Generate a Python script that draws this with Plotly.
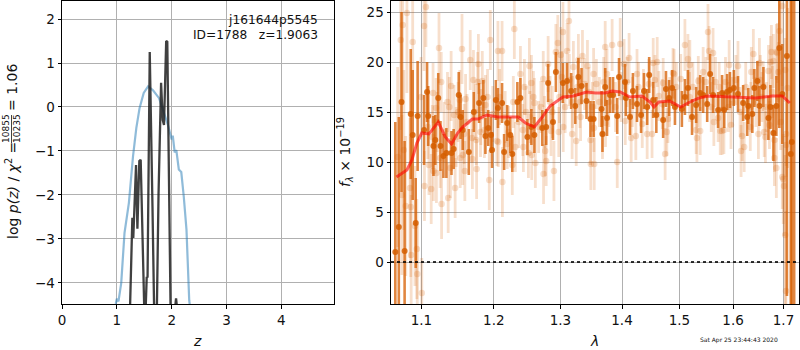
import math
import plotly.graph_objects as go

# ---- left panel data ----
pz_z = [0.98, 1.0, 1.03, 1.08, 1.14, 1.22, 1.295, 1.355, 1.415, 1.49, 1.57, 1.66, 1.77, 1.84, 1.93, 2.0, 2.02, 2.055, 2.085, 2.13, 2.175, 2.22, 2.27, 2.32, 2.34]
pz_log = [-4.48, -4.36, -4.42, -4.0, -2.86, -2.18, -1.12, -0.48, -0.02, 0.32, 0.47, 0.38, 0.2, -0.06, -0.4, -0.74, -0.65, -1.03, -0.98, -1.42, -1.48, -2.03, -2.79, -4.4, -4.6]
chi_z = [1.24, 1.253, 1.283, 1.30, 1.35, 1.375, 1.41, 1.435, 1.485, 1.50, 1.525, 1.545, 1.56, 1.60, 1.65, 1.68, 1.73, 1.76, 1.807, 1.837, 1.86, 1.90, 1.92, 1.97, 1.98, 2.06, 2.08, 2.1]
chi_log = [-4.6, -3.86, -2.52, -2.98, -1.32, -2.77, -1.23, -1.2, -4.23, -4.6, -4.6, -3.86, -3.88, 1.25, -2.27, -4.6, -4.6, -2.0, 0.55, -0.3, -0.41, 1.5, 1.48, -4.39, -4.6, -4.6, -4.35, -4.6]

# ---- right panel data ----
dark_wave = [1.066, 1.0705, 1.074, 1.078, 1.086, 1.0885, 1.0925, 1.095, 1.1035, 1.1075,
             1.109, 1.116, 1.1185, 1.1225, 1.1255, 1.1295, 1.1335, 1.1405, 1.1435, 1.1505,
             1.153, 1.156, 1.1645, 1.1715, 1.179, 1.185, 1.188, 1.192, 1.196, 1.1975,
             1.203, 1.206, 1.212, 1.215, 1.2195, 1.224, 1.227, 1.2345, 1.239, 1.2495,
             1.2555, 1.26, 1.272, 1.278, 1.281, 1.2885, 1.293, 1.304, 1.3105, 1.317,
             1.3235, 1.3285, 1.3335, 1.3415, 1.348, 1.353, 1.366, 1.3675, 1.372, 1.375,
             1.38, 1.385, 1.392, 1.395, 1.405, 1.4065, 1.4135, 1.4185, 1.4255, 1.4325,
             1.4375, 1.443, 1.4465, 1.4535, 1.459, 1.471, 1.476, 1.4815, 1.487, 1.492,
             1.5045, 1.51, 1.5155, 1.523, 1.5305, 1.538, 1.5435, 1.551, 1.5565, 1.562,
             1.5715, 1.579, 1.583, 1.5885, 1.594, 1.6015, 1.6095, 1.6195, 1.6275, 1.6295,
             1.6375, 1.6415, 1.6475, 1.6515, 1.6595, 1.6695, 1.6735, 1.6795, 1.6855, 1.6915,
             1.6975, 1.707, 1.715, 1.717, 1.722]
dark_flux = [1.0, 3.5, 16.0, 1.1, 14.8, 12.7, 3.9, 14.6, 13.2, 17.0,
             14.6, 11.6, 12.2, 16.4, 11.6, 10.6, 10.9, 10.9, 11.3, 16.7,
             14.5, 13.2, 11.0, 15.0, 15.9, 16.4, 12.6, 13.4, 12.7, 11.2,
             16.2, 15.4, 15.9, 11.0, 13.9, 12.7, 10.8, 16.0, 16.4, 12.5,
             13.5, 12.7, 13.4, 13.5, 17.9, 14.0, 19.0, 17.9, 18.1, 17.1,
             15.6, 18.5, 17.6, 16.1, 14.3, 14.3, 15.3, 12.8, 17.5, 14.4,
             16.7, 16.7, 14.6, 18.5, 18.0, 16.4, 14.5, 17.1, 15.8, 14.7,
             17.1, 15.5, 18.7, 16.2, 14.7, 14.2, 17.3, 16.4, 17.4, 15.5,
             15.3, 16.5, 17.4, 14.5, 15.7, 16.9, 16.7, 15.8, 18.8, 16.7,
             15.2, 16.9, 15.2, 17.0, 17.2, 17.4, 16.8, 15.9, 14.5, 15.6,
             14.8, 17.4, 18.1, 15.6, 17.5, 14.4, 15.5, 12.9, 15.6, 21.4,
             16.8, 20.6, 10.8, 12.0, 30.0]
dark_err = [13, 11, 9, 11, 6.5, 6.5, 4.5, 5.5, 3.5, 3,
            3, 3, 2.5, 2.5, 2.5, 2.2, 2.5, 2.2, 2, 2.3,
            2.2, 2, 2.3, 2, 2, 1.8, 1.8, 1.8, 1.8, 1.8,
            2, 2, 2, 1.8, 1.8, 1.8, 1.8, 2, 2, 1.8,
            1.8, 1.8, 1.8, 1.8, 1.9, 1.8, 2, 2, 1.8, 1.8,
            1.8, 1.9, 1.8, 1.8, 1.8, 1.8, 1.8, 1.8, 1.9, 1.8,
            1.8, 1.8, 1.8, 1.9, 1.8, 1.8, 1.8, 1.8, 1.8, 1.8,
            1.8, 1.8, 1.8, 1.8, 1.8, 1.8, 1.8, 1.8, 1.8, 1.8,
            1.8, 1.8, 1.8, 1.8, 1.8, 1.8, 1.8, 1.8, 2, 1.8,
            1.8, 1.8, 1.8, 1.8, 1.8, 1.8, 1.8, 1.8, 1.9, 1.8,
            1.9, 1.9, 2, 2, 2, 2.2, 2.2, 2.8, 3, 8,
            5, 24, 24, 24, 40]

light_wave = [1.069, 1.073, 1.0745, 1.0755, 1.077, 1.0795, 1.081, 1.085, 1.086, 1.0865,
              1.0885, 1.0915, 1.094, 1.0945, 1.0995, 1.1005, 1.1035, 1.104, 1.106, 1.11,
              1.113, 1.1155, 1.116, 1.1195, 1.12, 1.1235, 1.125, 1.1265, 1.127, 1.135,
              1.136, 1.139, 1.14, 1.144, 1.1455, 1.152, 1.1525, 1.155, 1.156, 1.159,
              1.16, 1.1665, 1.169, 1.1695, 1.171, 1.175, 1.1755, 1.177, 1.178, 1.181,
              1.1835, 1.188, 1.1935, 1.195, 1.2045, 1.206, 1.2065, 1.212, 1.2125, 1.2195,
              1.227, 1.23, 1.2315, 1.239, 1.2435, 1.245, 1.251, 1.2525, 1.2555, 1.256,
              1.26, 1.2615, 1.2735, 1.274, 1.2765, 1.278, 1.281, 1.2855, 1.29, 1.293,
              1.296, 1.2975, 1.3005, 1.304, 1.3045, 1.3105, 1.3135, 1.3185, 1.3205, 1.325,
              1.3285, 1.332, 1.335, 1.343, 1.348, 1.3485, 1.353, 1.3535, 1.354, 1.3675,
              1.372, 1.3725, 1.375, 1.3835, 1.392, 1.397, 1.4035, 1.4055, 1.412, 1.4155,
              1.4255, 1.4235, 1.4345, 1.443, 1.4535, 1.4515, 1.471, 1.4745, 1.4775, 1.4795,
              1.4885, 1.4605, 1.4905, 1.51, 1.5155, 1.519, 1.5305, 1.532, 1.5345, 1.538,
              1.5435, 1.5525, 1.5545, 1.562, 1.5635, 1.5715, 1.5735, 1.5755, 1.579, 1.5825,
              1.5925, 1.596, 1.6095, 1.6155, 1.6175, 1.6215, 1.6335, 1.6355, 1.6395, 1.6495,
              1.6515, 1.6535, 1.659, 1.661, 1.6635, 1.6695, 1.6715, 1.6735, 1.6755, 1.6795,
              1.6815, 1.6855, 1.6855, 1.6875, 1.6895, 1.6975, 1.7055, 1.7035, 1.7055]
light_flux = [10.5, 22.2, 6.7, 23.7, 11.2, 5.6, 24.9, 7.4, 5.5, 0.7,
              22.0, 3.6, 1.3, -1.2, 16.5, -3.1, 23.6, 7.6, 25.5, 9.7,
              7.3, 16.9, 9.1, 15.4, 8.9, 21.4, 10.4, 18.0, 5.8, 16.0,
              6.4, 9.4, 17.6, 14.7, 7.4, 16.2, 10.4, 21.3, 10.7, 9.1,
              16.3, 20.2, 12.4, 10.3, 18.2, 12.2, 9.3, 18.0, 19.8, 13.0,
              18.1, 15.7, 8.2, 22.2, 12.1, 21.1, 12.0, 21.1, 8.0, 11.8,
              9.7, 23.3, 11.5, 18.8, 11.5, 17.5, 10.9, 19.6, 17.9, 10.7,
              15.9, 9.9, 18.3, 8.8, 11.1, 10.1, 19.8, 13.1, 9.1, 21.0,
              21.9, 13.0, 20.7, 23.0, 13.5, 21.1, 24.1, 12.8, 19.5, 12.1,
              20.2, 14.5, 20.6, 19.6, 12.2, 9.8, 18.8, 13.4, 9.8, 12.8,
              21.5, 13.9, 18.8, 21.7, 10.0, 21.8, 19.8, 14.1, 20.4, 12.4,
              18.8, 12.6, 13.8, 12.8, 19.9, 12.8, 17.9, 10.8, 13.0, 14.3,
              18.9, 20.0, 18.8, 21.7, 20.3, 19.7, 13.2, 12.4, 18.1, 13.1,
              19.0, 23.0, 21.1, 20.9, 14.0, 14.4, 17.5, 13.1, 13.1, 13.2,
              19.7, 13.7, 19.6, 11.1, 12.6, 11.5, 13.5, 19.0, 20.8, 12.8,
              19.9, 18.2, 17.6, 13.0, 12.5, 19.1, 13.7, 20.0, 21.0, 20.1,
              10.4, 9.4, 21.0, 20.9, 19.0, 8.5, 11.7, 19.2, 12.8]
light_err = [9, 9, 8, 8, 8, 7, 8, 7, 7, 6,
             7, 6, 5, 5, 4, 3.5, 4.5, 3.5, 4, 3,
             3.5, 3, 3, 3, 3, 3.5, 3, 3, 3.5, 3,
             3.5, 3, 3.5, 3, 3, 3, 3, 3.5, 3, 3,
             2.5, 3, 2.5, 3, 3, 2.5, 3, 3, 3, 2.5,
             3, 3, 3, 3, 2.5, 3, 2.5, 3, 3.5, 2.5,
             3, 3, 2.5, 2.8, 2.5, 2.8, 2.5, 2.8, 2.8, 2.5,
             2.5, 2.5, 2.8, 3, 2.5, 2.5, 2.8, 2.5, 3, 2.8,
             2.8, 2.5, 2.8, 3, 2.5, 2.8, 3, 2.5, 2.6, 2.5,
             2.6, 2.4, 2.6, 2.6, 2.5, 2.6, 2.6, 2.4, 2.6, 2.5,
             2.6, 2.4, 2.5, 2.6, 2.6, 2.6, 2.5, 2.4, 2.5, 2.4,
             2.5, 2.4, 2.4, 2.5, 2.5, 2.4, 2.5, 2.6, 2.4, 2.4,
             2.5, 2.5, 2.5, 2.6, 2.5, 2.5, 2.4, 2.4, 2.5, 2.4,
             2.5, 2.8, 2.5, 2.5, 2.4, 2.4, 2.5, 2.4, 2.4, 2.4,
             2.5, 2.4, 2.5, 2.6, 2.5, 2.5, 2.4, 2.5, 2.5, 2.5,
             2.5, 2.5, 2.5, 2.5, 2.6, 2.6, 2.4, 2.6, 2.7, 2.7,
             2.8, 3, 2.8, 3, 3, 3.2, 3.2, 3.2, 3.2]
extra_wave = [1.6815, 1.692, 1.6975, 1.6995, 1.701, 1.7035, 1.705, 1.7085]
extra_flux = [12.2, 23.1, 25.6, 8.3, 7.6, 2.7, -2.9, 17.4]
extra_err = [3.2, 6, 8, 4.5, 5, 8, 8, 8]
band_wave = [1.1085, 1.1145, 1.121, 1.1305, 1.1375, 1.147, 1.1495, 1.158, 1.162, 1.1735,
             1.1815, 1.1865, 1.191, 1.1985, 1.2085, 1.2165, 1.2215, 1.2285, 1.2365, 1.2425,
             1.2475, 1.2535, 1.2585, 1.2665, 1.27, 1.2755, 1.284, 1.2875, 1.2985, 1.3025,
             1.3075, 1.314, 1.319, 1.327, 1.331, 1.3385, 1.3455, 1.351, 1.3575, 1.3625,
             1.3695, 1.378, 1.389, 1.3985, 1.4085, 1.4175, 1.428, 1.4365, 1.446, 1.4565,
             1.4635, 1.4695, 1.4825, 1.4945, 1.5025, 1.5185, 1.5245, 1.5335, 1.5485, 1.5585,
             1.5665, 1.5855, 1.591, 1.5985, 1.6055, 1.6135, 1.6245, 1.6345, 1.6445, 1.6565,
             1.6655, 1.6775, 1.6895, 1.6945]
band_flux = [13.5, 12.5, 14.0, 13.0, 15.5, 12.5, 15.0, 12.8, 14.0, 15.0,
             14.5, 13.2, 16.5, 14.8, 16.5, 14.5, 13.0, 16.0, 14.0, 13.2,
             15.0, 14.5, 16.5, 13.5, 15.5, 14.0, 16.0, 15.0, 16.5, 18.5,
             15.5, 18.2, 16.0, 17.5, 16.0, 17.8, 17.0, 15.5, 17.8, 16.0,
             18.0, 16.0, 15.5, 16.5, 18.0, 16.0, 17.5, 16.8, 17.8, 18.2,
             16.6, 15.8, 16.0, 17.5, 18.3, 16.5, 17.5, 16.0, 18.0, 15.5,
             18.0, 18.0, 15.5, 16.0, 18.2, 15.0, 17.5, 15.5, 16.0, 16.5,
             15.5, 17.0, 16.5, 14.0]
band_err = [3.2, 3.2, 3.0, 3.0, 3.0, 3.0, 3.0, 3.0, 2.8, 2.8,
            2.8, 2.8, 2.8, 2.8, 2.8, 2.6, 2.6, 2.6, 2.6, 2.6,
            2.6, 2.6, 2.6, 2.6, 2.6, 2.6, 2.6, 2.6, 2.6, 2.6,
            2.6, 2.6, 2.6, 2.6, 2.6, 2.6, 2.5, 2.5, 2.5, 2.5,
            2.5, 2.5, 2.5, 2.5, 2.5, 2.5, 2.5, 2.5, 2.5, 2.5,
            2.5, 2.5, 2.5, 2.5, 2.5, 2.5, 2.5, 2.5, 2.5, 2.5,
            2.5, 2.5, 2.5, 2.5, 2.5, 2.5, 2.5, 2.5, 2.5, 2.5,
            2.5, 2.6, 2.8, 2.8]

model_wave = [1.0675, 1.081, 1.0875, 1.094, 1.1005, 1.11, 1.1225, 1.132, 1.1405, 1.149,
              1.156, 1.1695, 1.1775, 1.19, 1.206, 1.236, 1.2465, 1.26, 1.272, 1.284,
              1.304, 1.3205, 1.3415, 1.356, 1.372, 1.3835, 1.397, 1.4135, 1.434, 1.448,
              1.455, 1.4635, 1.4825, 1.5025, 1.5155, 1.536, 1.553, 1.5905, 1.6435, 1.6775,
              1.6975, 1.713]
model_flux = [8.5, 9.2, 10.2, 11.9, 12.9, 12.8, 14.0, 12.5, 11.8, 12.9,
              13.5, 14.3, 14.3, 14.7, 14.5, 14.5, 13.9, 13.5, 14.5, 15.6,
              16.5, 16.6, 17.0, 16.9, 16.9, 17.1, 17.0, 16.5, 16.6, 16.0,
              15.5, 16.0, 16.1, 15.5, 15.9, 16.4, 16.6, 16.5, 16.4, 16.6,
              16.6, 15.9]

left_xticks = [0, 1, 2, 3, 4]
left_yticks = [-4, -3, -2, -1, 0, 1, 2]
right_xticks = [1.1, 1.2, 1.3, 1.4, 1.5, 1.6, 1.7]
right_yticks = [0, 5, 10, 15, 20, 25]

FONT = "DejaVu Sans"
GRID = "#b0b0b0"
W, H = 800, 350

fig = go.Figure()

fig.add_trace(go.Scatter(x=pz_z, y=pz_log, mode="lines", xaxis="x", yaxis="y",
                         line=dict(color="rgba(31,119,180,0.5)", width=2.2), showlegend=False))
fig.add_trace(go.Scatter(x=chi_z, y=chi_log, mode="lines", xaxis="x", yaxis="y",
                         line=dict(color="rgba(30,30,30,0.85)", width=2.3), showlegend=False))

fig.add_trace(go.Scatter(x=light_wave + extra_wave + band_wave, y=light_flux + extra_flux + band_flux,
                         mode="markers", xaxis="x2", yaxis="y2",
                         marker=dict(color="rgba(213,94,0,0.2)", size=6.5, line=dict(width=0)),
                         error_y=dict(type="data", array=light_err + extra_err + band_err,
                                      color="rgba(213,94,0,0.2)", thickness=2.8, width=0),
                         showlegend=False))
fig.add_trace(go.Scatter(x=dark_wave, y=dark_flux, mode="markers", xaxis="x2", yaxis="y2",
                         marker=dict(color="rgba(213,94,0,0.85)", size=6, line=dict(width=0)),
                         error_y=dict(type="data", array=dark_err, color="rgba(213,94,0,0.75)",
                                      thickness=2.6, width=0),
                         showlegend=False))
fig.add_trace(go.Scatter(x=model_wave, y=model_flux, mode="lines", xaxis="x2", yaxis="y2",
                         line=dict(color="rgba(255,0,0,0.6)", width=3), showlegend=False))

axis_common = dict(showgrid=True, gridcolor=GRID, gridwidth=1, zeroline=False, showline=True, mirror=True,
                   linecolor="black", linewidth=1, ticks="outside", ticklen=3.5, tickwidth=1, tickcolor="black",
                   tickfont=dict(family=FONT, size=13.5, color="#111"), automargin=False)

fig.update_layout(
    width=W, height=H, autosize=False, paper_bgcolor="white", plot_bgcolor="white",
    margin=dict(l=0, r=0, t=0, b=0), showlegend=False,
    xaxis=dict(domain=[62 / W, 334 / W], range=[0, 4.96], tickvals=left_xticks, anchor="y", **axis_common),
    yaxis=dict(domain=[1 - 304 / H, 1 - 1 / H], range=[-4.48, 2.41], tickvals=left_yticks, anchor="x", **axis_common),
    xaxis2=dict(domain=[391 / W, 799 / W], type="log", range=[math.log10(1.0605), math.log10(1.732)],
                tickvals=right_xticks, ticktext=[f"{v:.1f}" for v in right_xticks], anchor="y2", **axis_common),
    yaxis2=dict(domain=[1 - 304 / H, 1 - 1 / H], range=[-4.2, 26.1], tickvals=right_yticks, anchor="x2", **axis_common),
    shapes=[
        dict(type="line", xref="x2 domain", yref="y2", x0=0, x1=1, y0=0, y1=0,
             line=dict(color="rgba(0,0,0,0.8)", width=2, dash="dot")),
        dict(type="line", xref="paper", yref="paper", x0=11.5 / W, x1=11.5 / W, y0=1 - 143 / H, y1=1 - 115 / H,
             line=dict(color="#111", width=0.8)),
    ],
)


def label(text, x, y, size=13, angle=0, anchor="center", yanchor="middle"):
    fig.add_annotation(text=text, xref="paper", yref="paper", x=x / W, y=1 - y / H, showarrow=False,
                       xanchor=anchor, yanchor=yanchor, textangle=angle,
                       font=dict(family=FONT, size=size, color="#111"))


label("j161644p5545", 320, 20, size=12.2, anchor="right")
label("ID=1788   z=1.9063", 320, 35, size=12.2, anchor="right")
label("log <i>p(z)</i> / <i>χ</i><sup>2</sup> =", 12, 191, size=14, angle=-90)
label("10855", 6, 129, size=9, angle=-90)
label("10235", 17, 129, size=9, angle=-90)
label("= 1.06", 12, 88, size=14, angle=-90)
label("<i>z</i>", 197, 341, size=14)
label("<i>f<sub>λ</sub></i> × 10<sup>−19</sup>", 345, 152, size=14, angle=-90)
label("<i>λ</i>", 594, 341, size=14)
label("Sat Apr 25 23:44:43 2020", 698, 339.5, size=6, anchor="left")

fig.write_html("out.html", config=dict(displayModeBar=False),
               post_script="document.body.style.margin='0';document.body.style.overflow='hidden';")
